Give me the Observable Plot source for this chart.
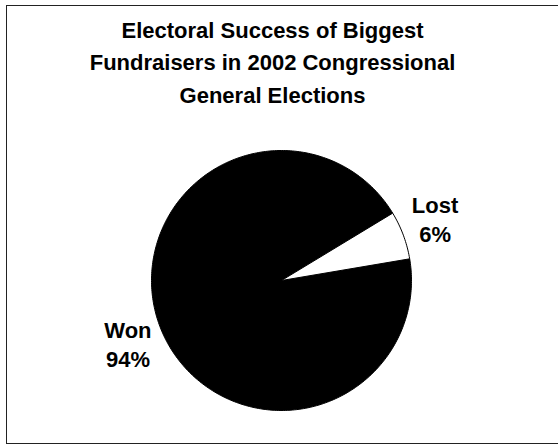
<!DOCTYPE html>
<html>
<head>
<meta charset="utf-8">
<script src="https://cdn.jsdelivr.net/npm/d3@7"></script>
<script src="https://cdn.jsdelivr.net/npm/@observablehq/plot@0.6"></script>
<style>
  html, body { margin: 0; padding: 0; background: #fff; }
  #wrap { position: relative; width: 558px; height: 445px; overflow: hidden; }
  #border { position: absolute; left: 6px; top: 5px; width: 600px; height: 439px; border: 1.5px solid #222; box-sizing: border-box; }
  #chart { position: absolute; left: 0; top: 0; }
</style>
</head>
<body>
<div id="wrap"><div id="border"></div><div id="chart"></div></div>
<script>
const titleLines = ["Electoral Success of Biggest", "Fundraisers in 2002 Congressional", "General Elections"];
const categories = ["Won", "Lost"];
const values = [94, 6];
const sliceColors = ["#000000", "#ffffff"];

const startDeg = 80.4;
const start = startDeg * Math.PI / 180;
const arcs = d3.pie().sort(null).startAngle(start).endAngle(start + 2 * Math.PI)(values)
  .map((a, i) => ({...a, cat: categories[i]}));

const poly = [];
for (const a of arcs) {
  const n = Math.max(4, Math.ceil((a.endAngle - a.startAngle) / (Math.PI / 180)));
  poly.push({cat: a.cat, x: 0, y: 0});
  for (let k = 0; k <= n; k++) {
    const t = a.startAngle + (a.endAngle - a.startAngle) * k / n;
    poly.push({cat: a.cat, x: Math.sin(t), y: Math.cos(t)});
  }
  poly.push({cat: a.cat, x: 0, y: 0});
}

const labelR = 1.275;
const labelTurn = -1.7 * Math.PI / 180;
const labels = arcs.map(a => {
  const m = (a.startAngle + a.endAngle) / 2 + labelTurn;
  return {x: labelR * Math.sin(m), y: labelR * Math.cos(m), text: `${a.cat}\n${a.data}%`};
});

const cx = 281, cy = 280, r = 130;
const chart = Plot.plot({
  width: 558,
  height: 445,
  margin: 0,
  x: {domain: [-1, 1], range: [cx - r, cx + r], axis: null},
  y: {domain: [-1, 1], range: [cy + r, cy - r], axis: null},
  color: {domain: categories, range: sliceColors},
  style: {fontFamily: "'Liberation Sans', Arial, sans-serif", background: "transparent"},
  marks: [
    Plot.line(poly, {x: "x", y: "y", z: "cat", fill: "cat", stroke: "#000", strokeWidth: 1, curve: "linear"}),
    Plot.text(labels, {x: "x", y: "y", text: "text", fontSize: 22, fontWeight: "bold", fill: "#000", lineHeight: 1.32, lineAnchor: "middle"}),
    Plot.text([titleLines.join("\n")], {frameAnchor: "top", dx: -7, dy: 59.5, lineAnchor: "middle", text: d => d, fontSize: 22, fontWeight: "bold", fill: "#000", lineHeight: 1.48})
  ]
});
document.getElementById("chart").appendChild(chart);
</script>
</body>
</html>
